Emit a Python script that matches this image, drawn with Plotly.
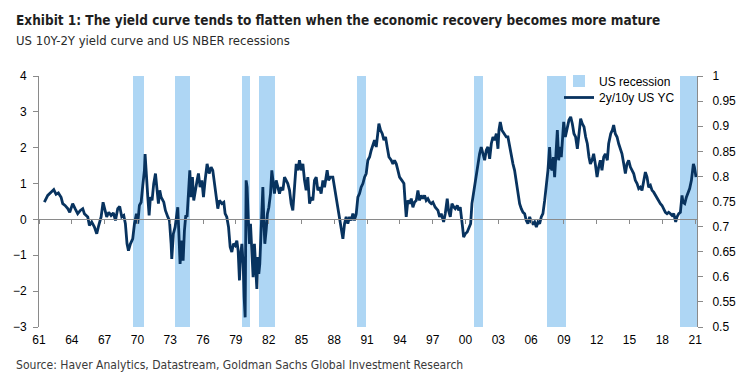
import plotly.graph_objects as go

# ---------------- data ----------------
rec_start = [1969.55, 1973.42, 1979.55, 1981.10, 1990.07, 2000.77, 2007.45, 2019.62]
rec_end   = [1970.60, 1974.85, 1980.28, 1982.54, 1990.89, 2001.57, 2009.19, 2021.17]

yc_dates = [
    1961.49, 1961.80, 1962.10, 1962.35, 1962.56, 1962.77, 1963.02, 1963.17, 1963.38, 1963.63,
    1963.81, 1964.08, 1964.30, 1964.54, 1964.78, 1965.00, 1965.15, 1965.46, 1965.61, 1965.82,
    1966.07, 1966.28, 1966.46, 1966.68, 1966.86, 1967.04, 1967.19, 1967.38, 1967.59, 1967.80,
    1967.99, 1968.20, 1968.38, 1968.57, 1968.75, 1968.90, 1969.05, 1969.18, 1969.36, 1969.57,
    1969.73, 1969.91, 1970.03, 1970.18, 1970.34, 1970.49, 1970.64, 1970.70, 1970.82, 1970.95,
    1971.07, 1971.19, 1971.34, 1971.49, 1971.65, 1971.80, 1971.92, 1972.04, 1972.17, 1972.41,
    1972.56,
    1972.78, 1972.93, 1973.08, 1973.14, 1973.29, 1973.45, 1973.57, 1973.69, 1973.78, 1973.90,
    1974.06, 1974.18, 1974.30, 1974.42, 1974.54, 1974.67, 1974.79, 1974.91, 1975.03, 1975.15,
    1975.31, 1975.46, 1975.58, 1975.73, 1975.89, 1976.04, 1976.19, 1976.37, 1976.56, 1976.74,
    1976.89, 1977.05, 1977.23, 1977.35, 1977.50, 1977.72, 1977.90, 1978.02, 1978.17, 1978.33,
    1978.48, 1978.63, 1978.78, 1978.94, 1979.09, 1979.21, 1979.33, 1979.42, 1979.55, 1979.67,
    1979.76, 1979.85, 1979.94, 1980.03, 1980.13, 1980.25, 1980.34, 1980.46, 1980.58, 1980.70,
    1980.83, 1980.92, 1981.01, 1981.10, 1981.19, 1981.28, 1981.38, 1981.47, 1981.56, 1981.65,
    1981.77, 1981.89, 1982.02, 1982.17, 1982.29, 1982.41, 1982.53, 1982.69, 1982.84, 1982.99,
    1983.14, 1983.30, 1983.45, 1983.60, 1983.75, 1983.91, 1984.06, 1984.21, 1984.36, 1984.52,
    1984.67, 1984.82, 1984.97, 1985.13,
    1985.28, 1985.43, 1985.58, 1985.74, 1985.89, 1986.04, 1986.19, 1986.35, 1986.50, 1986.65,
    1986.80, 1986.96, 1987.11, 1987.35, 1987.48, 1987.66, 1987.87, 1988.02, 1988.18, 1988.33,
    1988.48, 1988.63, 1988.79, 1988.94, 1989.09, 1989.24, 1989.40, 1989.55, 1989.70, 1989.85,
    1990.01, 1990.16, 1990.31, 1990.46, 1990.62, 1990.77, 1990.92, 1991.07, 1991.23, 1991.38,
    1991.53, 1991.68, 1991.84, 1991.99, 1992.08, 1992.23, 1992.39, 1992.54, 1992.69, 1992.84,
    1993.00, 1993.21, 1993.36, 1993.51, 1993.67, 1993.82, 1993.97, 1994.18, 1994.37, 1994.49,
    1994.58, 1994.73, 1994.89, 1995.04, 1995.19, 1995.34, 1995.50, 1995.65, 1995.80, 1995.95,
    1996.11, 1996.26, 1996.41, 1996.56, 1996.72, 1996.87,
    1997.02, 1997.23, 1997.48, 1997.63, 1997.78, 1998.00, 1998.15, 1998.33, 1998.45, 1998.61,
    1998.76, 1998.94, 1999.06, 1999.25, 1999.37, 1999.52, 1999.61, 1999.73, 1999.83, 1999.98,
    2000.16, 2000.35, 2000.47, 2000.59, 2000.71, 2000.83, 2000.99, 2001.14, 2001.29, 2001.44,
    2001.60, 2001.75, 2001.90, 2002.05, 2002.21, 2002.36, 2002.51, 2002.66, 2002.82, 2002.97,
    2003.06, 2003.18, 2003.33, 2003.52, 2003.73, 2003.88, 2004.04, 2004.19, 2004.34, 2004.49,
    2004.65, 2004.80, 2004.95, 2005.10, 2005.26, 2005.41, 2005.56, 2005.71, 2005.87, 2006.02,
    2006.17, 2006.32, 2006.48, 2006.63, 2006.78, 2006.93, 2007.08, 2007.24, 2007.39, 2007.54,
    2007.69, 2007.79, 2007.91, 2008.03, 2008.15, 2008.27, 2008.40, 2008.52, 2008.64, 2008.76,
    2008.91,
    2008.98, 2009.13, 2009.31, 2009.46, 2009.62, 2009.77, 2009.92, 2010.07, 2010.23, 2010.38,
    2010.53, 2010.68, 2010.84, 2010.99, 2011.14, 2011.29, 2011.42, 2011.57, 2011.72, 2011.87,
    2012.03, 2012.18, 2012.33, 2012.48, 2012.64, 2012.79, 2012.97, 2013.09, 2013.28, 2013.43,
    2013.55, 2013.70, 2013.86, 2014.01, 2014.16, 2014.31, 2014.47, 2014.62, 2014.77, 2014.92,
    2015.08, 2015.23, 2015.38, 2015.53, 2015.69, 2015.84, 2015.99, 2016.14, 2016.30, 2016.45,
    2016.60, 2016.75, 2016.91, 2017.06, 2017.21, 2017.36, 2017.52, 2017.67, 2017.82, 2017.97,
    2018.13, 2018.28, 2018.43, 2018.58, 2018.74, 2018.89, 2019.04, 2019.13, 2019.22, 2019.34,
    2019.50, 2019.65, 2019.80, 2019.89, 2020.05, 2020.20, 2020.35, 2020.50, 2020.66, 2020.75,
    2020.84, 2020.93, 2021.02, 2021.08,
]

yc_values = [
    0.48, 0.67, 0.76, 0.83, 0.70, 0.74, 0.62, 0.44, 0.39, 0.30,
    0.20, 0.44, 0.30, 0.16, 0.25, 0.30, 0.16, 0.07, -0.17, -0.07,
    -0.21, -0.40, -0.17, 0.07, 0.48, 0.25, 0.07, 0.20, 0.11, 0.18,
    -0.03, 0.30, 0.36, 0.07, 0.11, -0.12, -0.68, -0.87, -0.68, -0.54,
    -0.12, 0.16, -0.12, 0.39, 0.48, 0.95, 1.37, 1.82, 1.09, 0.62,
    0.11, 0.62, 0.53, 1.00, 1.28, 0.90, 0.44, 0.81, 0.62, 0.48,
    0.25,
    0.07, -0.03, -0.68, -1.10, -0.40, -0.21, 0.07, 0.34, -0.31, -1.24,
    -0.59, -1.15, -0.31, 0.11, 0.07, 0.72, 1.37, 0.62, 1.18, 0.53,
    0.90, 1.09, 1.28, 0.90, 1.09, 0.62, 1.09, 1.55, 1.28, 1.46,
    1.37, 1.04, 0.62, 0.30, 0.53, 0.44, 0.48, 0.16, 0.07, -0.21,
    -0.77, -0.91, -0.68, -0.73, -0.59, -0.87, -1.70, -1.05, -0.68, -1.24,
    -2.17, -2.73, 1.09, 0.90, 0.07, -0.68, -0.12, -0.96, -1.61, -0.68,
    -1.42, -1.94, -1.05, -1.52, -1.24, -0.59, 0.16, 0.90, -0.03, -0.68,
    -0.31, 0.16, 0.34, 0.72, 1.37, 1.09, 0.72, 1.09, 0.90, 0.72,
    0.90, 0.81, 1.18, 1.09, 1.00, 0.81, 0.44, 0.25, 0.90, 1.55,
    1.37, 1.65, 1.37, 1.55,
    1.09, 0.81, 1.18, 0.44, 0.62, 0.53, 1.09, 1.18, 0.81, 0.90,
    0.72, 1.09, 0.90, 1.37, 1.09, 1.18, 1.18, 0.90, 0.62, 0.34,
    -0.03, -0.21, -0.54, -0.12, 0.07, -0.12, 0.07, -0.03, 0.16, -0.03,
    0.16, 0.62, 0.72, 0.90, 1.00, 1.18, 1.28, 1.65, 1.74, 1.93,
    2.11, 2.21, 2.02, 2.39, 2.67, 2.49, 2.39, 2.21, 2.30, 2.02,
    1.74, 1.65, 1.55, 1.65, 1.55, 1.37, 1.18, 1.09, 1.00, 0.44,
    0.07, 0.53, 0.44, 0.58, 0.34, 0.48, 0.53, 0.81, 0.53, 0.67,
    0.58, 0.67, 0.53, 0.58, 0.48, 0.44,
    0.48, 0.34, 0.25, 0.07, 0.16, -0.07, 0.16, 0.58, 0.25, 0.07,
    0.44, 0.34, 0.30, 0.39, 0.25, 0.34, 0.16, -0.21, -0.49, -0.40,
    -0.35, -0.21, -0.12, 0.44, 0.67, 1.00, 1.18, 1.46, 1.83, 2.02,
    1.83, 1.65, 1.93, 2.02, 1.69, 2.11, 2.30, 2.21, 2.39, 1.97,
    2.49, 2.72, 2.49, 2.39, 2.30, 2.30, 2.02, 1.74, 1.55, 1.37,
    1.00, 0.72, 0.44, 0.30, 0.20, 0.16, -0.03, -0.12, 0.07, -0.07,
    -0.12, -0.07, -0.21, -0.07, -0.12, 0.07, 0.16, 0.53, 0.90, 1.37,
    2.02, 1.46, 1.37, 1.74, 1.18, 1.93, 2.49, 1.65, 2.02, 1.74,
    2.39,
    2.72, 2.30, 2.58, 2.77, 2.86, 2.67, 2.39, 2.30, 1.97, 2.39,
    2.81, 2.67, 2.58, 2.30, 2.11, 1.74, 1.55, 1.65, 1.83, 1.55,
    1.18, 1.46, 1.65, 1.37, 1.74, 1.83, 1.65, 2.11, 2.39, 2.49,
    2.63, 2.39, 2.30, 2.11, 1.93, 1.83, 1.55, 1.28, 1.55, 1.65,
    1.46, 1.37, 1.28, 1.09, 1.00, 0.86, 0.90, 0.81, 1.09, 1.32,
    1.18, 0.90, 0.95, 0.81, 0.76, 0.67, 0.58, 0.53, 0.44, 0.39,
    0.30, 0.20, 0.16, 0.20, 0.16, 0.11, 0.16, 0.02, -0.07, 0.07,
    0.16, 0.20, 0.67, 0.48, 0.44, 0.62, 0.72, 0.86, 1.09, 1.46,
    1.55, 1.46, 1.28, 1.18,
]

x_tick_years = [1961, 1964, 1967, 1970, 1973, 1976, 1979, 1982, 1985, 1988, 1991,
                1994, 1997, 2000, 2003, 2006, 2009, 2012, 2015, 2018, 2021]
x_tick_labels = ["61", "64", "67", "70", "73", "76", "79", "82", "85", "88", "91",
                 "94", "97", "00", "03", "06", "09", "12", "15", "18", "21"]
left_ticks = [-3, -2, -1, 0, 1, 2, 3, 4]
right_ticks = [0.5, 0.55, 0.6, 0.65, 0.7, 0.75, 0.8, 0.85, 0.9, 0.95, 1.0]
right_tick_labels = ["0.5", "0.55", "0.6", "0.65", "0.7", "0.75", "0.8", "0.85", "0.9", "0.95", "1"]

# ---------------- styling ----------------
NAVY = "#08335f"
LIGHT = "#aed6f4"
AXIS = "#8a8a8a"
TICKFONT = dict(family="Liberation Sans, Arial, sans-serif", size=12, color="#000000")
NARROW = "Liberation Sans Narrow, DejaVu Sans Condensed, Arial Narrow, sans-serif"

X_RANGE = [1961.0, 2021.17]

rec_center = [(s + e) / 2 for s, e in zip(rec_start, rec_end)]
rec_width = [e - s for s, e in zip(rec_start, rec_end)]

fig = go.Figure()

fig.add_trace(go.Bar(
    x=rec_center, y=[1] * len(rec_center), width=rec_width,
    marker=dict(color=LIGHT, line=dict(width=0)),
    name="US recession", xaxis="x", yaxis="y", legend="legend",
    hoverinfo="skip",
))

fig.add_trace(go.Scatter(
    x=yc_dates, y=yc_values, mode="lines",
    line=dict(color=NAVY, width=2.8),
    name="2y/10y US YC", xaxis="x", yaxis="y2", legend="legend2",
))

# empty helper trace so the zero-crossing axis is drawn
fig.add_trace(go.Scatter(x=[], y=[], xaxis="x2", yaxis="y2", showlegend=False, hoverinfo="skip"))

L, R, T, B = 39, 53, 76, 53
W, H = 750, 380
ph = H - T - B
pw = W - L - R


def px_x(px):
    return (px - L) / pw


def px_y(py):
    return (H - B - py) / ph


fig.update_layout(
    template="none",
    width=W, height=H,
    margin=dict(l=L, r=R, t=T, b=B, pad=0, autoexpand=False),
    paper_bgcolor="white", plot_bgcolor="white",
    bargap=0,
    hovermode=False,
    xaxis=dict(
        range=X_RANGE, tickmode="array", tickvals=x_tick_years, ticktext=x_tick_labels,
        showline=False, ticks="", showgrid=False, zeroline=False,
        tickfont=TICKFONT, ticklabelstandoff=4, automargin=False,
    ),
    xaxis2=dict(
        range=X_RANGE, overlaying="x", anchor="free", position=3 / 7, side="bottom",
        tickmode="array", tickvals=x_tick_years, showticklabels=False,
        showline=True, linecolor=AXIS, linewidth=1,
        ticks="outside", ticklen=4, tickcolor=AXIS, tickwidth=1,
        showgrid=False, zeroline=False, layer="above traces", automargin=False,
    ),
    yaxis=dict(
        range=[0.5, 1.0], side="right", tickmode="array", tickvals=right_ticks,
        ticktext=right_tick_labels, showline=True, linecolor=AXIS, linewidth=1,
        ticks="outside", ticklen=5, tickcolor=AXIS, showgrid=False, zeroline=False,
        tickfont=TICKFONT, ticklabelstandoff=7, automargin=False,
    ),
    yaxis2=dict(
        range=[-3, 4], side="left", overlaying="y", tickmode="array", tickvals=left_ticks,
        showline=True, linecolor=AXIS, linewidth=1, ticks="outside", ticklen=5,
        tickcolor=AXIS, showgrid=False, zeroline=False, tickfont=TICKFONT,
        ticklabelstandoff=4, automargin=False,
    ),
    legend=dict(
        x=px_x(559), y=px_y(81), xanchor="left", yanchor="middle",
        bgcolor="rgba(0,0,0,0)", borderwidth=0,
        font=dict(family="Liberation Sans, Arial, sans-serif", size=12, color="#000000"),
    ),
    legend2=dict(
        x=px_x(559), y=px_y(97.5), xanchor="left", yanchor="middle",
        bgcolor="rgba(0,0,0,0)", borderwidth=0,
        font=dict(family="Liberation Sans, Arial, sans-serif", size=12, color="#000000"),
    ),
    showlegend=True,
    annotations=[
        dict(text="<b>Exhibit 1: The yield curve tends to flatten when the economic recovery becomes more mature</b>",
             xref="paper", yref="paper", x=px_x(14), y=px_y(20), xanchor="left", yanchor="middle",
             showarrow=False, font=dict(family=NARROW, size=13.5, color="#1f1f1f")),
        dict(text="US 10Y-2Y yield curve and US NBER recessions",
             xref="paper", yref="paper", x=px_x(14), y=px_y(41), xanchor="left", yanchor="middle",
             showarrow=False, font=dict(family=NARROW, size=13, color="#2a2a2a")),
        dict(text="Source: Haver Analytics, Datastream, Goldman Sachs Global Investment Research",
             xref="paper", yref="paper", x=px_x(14), y=px_y(365), xanchor="left", yanchor="middle",
             showarrow=False, font=dict(family=NARROW, size=12.05, color="#3a3a3a")),
    ],
)

fig.write_html(
    "out.html",
    config={"displayModeBar": False},
    post_script="document.body.style.margin='0';document.body.style.padding='0';",
)
